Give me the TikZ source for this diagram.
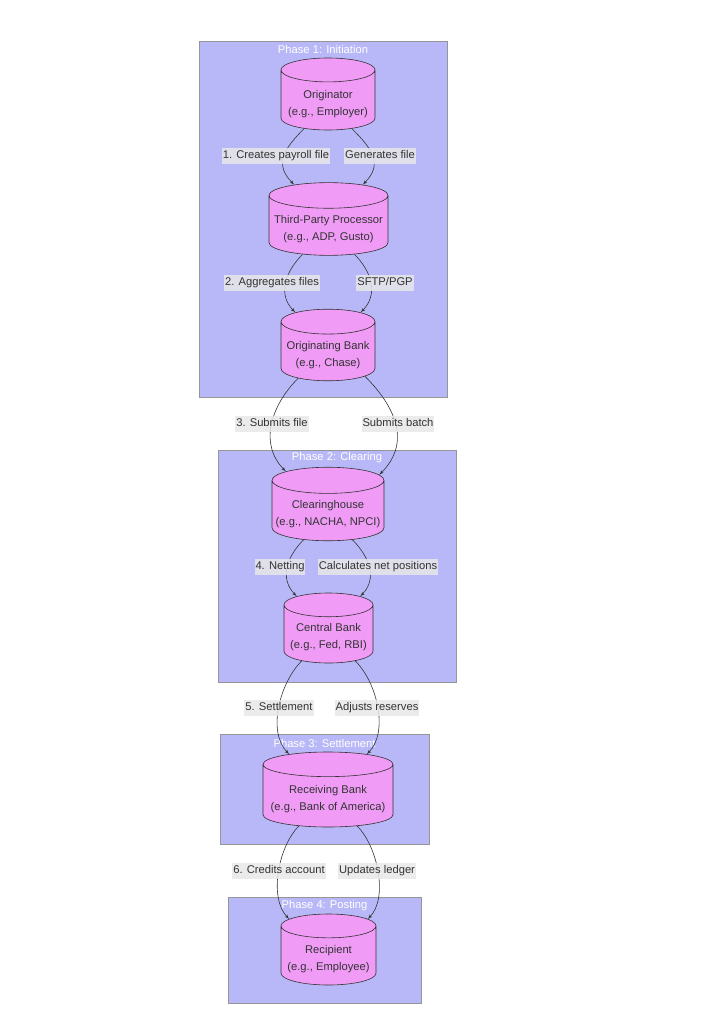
\documentclass[tikz,border=0pt]{standalone}
\usepackage{fontspec}
\setmainfont{Liberation Sans}
\usetikzlibrary{arrows,shapes.geometric,calc}
\definecolor{phasefill}{RGB}{184,184,248}
\definecolor{phaseline}{RGB}{150,150,150}
\definecolor{dbfill}{RGB}{240,156,246}
\definecolor{lblfill}{RGB}{232,232,232}
\definecolor{ink}{RGB}{51,51,51}
\newcommand{\dbtext}[2]{\raisebox{-3pt}[\height][\depth]{\begin{tabular}{@{}c@{}}#1\\#2\end{tabular}}}

\begin{document}
\begin{tikzpicture}[x=1pt,y=1pt,>=latex']
      \tikzset{
	  phase/.style={draw=phaseline, fill=phasefill, line width=0.8pt},
	  phasetitle/.style={text=white, font=\fontsize{11.2}{13}\selectfont},
	  db/.style={cylinder, shape border rotate=90, anchor=shape center, draw=ink, fill=dbfill, line width=0.6pt, text=ink, inner sep=0pt, font=\fontsize{11.2}{17}\selectfont},
	  lbl/.style={fill=lblfill, fill opacity=0.85, text opacity=1, text=ink, inner xsep=1pt, inner ysep=2.5pt, text height=8.2pt, text depth=2.6pt, font=\fontsize{11.2}{13}\selectfont},
	  flow/.style={->, draw=ink, line width=0.6pt},
      }
      \useasboundingbox[fill=white] (0,0) rectangle (710,-1024);

      % phases
      \draw[phase] (199,-41) rectangle (447,-397);
      \node[phasetitle] (t1) at (323,-49) {Phase 1: Initiation};
      \draw[phase] (218,-450) rectangle (456,-682);
      \node[phasetitle] (t2) at (337,-458) {Phase 2: Clearing};
      \draw[phase] (220,-734) rectangle (429,-844);
      \node[phasetitle] (t3) at (324.5,-743) {Phase 3: Settlement};
      \draw[phase] (228,-897) rectangle (421,-1003);
      \node[phasetitle] (t4) at (324.5,-906) {Phase 4: Posting};

      \node (orig) at (328,-94) [db, minimum width=94, minimum height=72, aspect=0.3] {\dbtext{Originator}{(e.g., Employer)}};
      \node (tpp) at (328.5,-219) [db, minimum width=119, minimum height=72, aspect=0.235] {\dbtext{Third-Party Processor}{(e.g., ADP, Gusto)}};
      \node (obank) at (328,-345) [db, minimum width=94, minimum height=70, aspect=0.3] {\dbtext{Originating Bank}{(e.g., Chase)}};
      \node (chouse) at (328,-504) [db, minimum width=112, minimum height=72, aspect=0.25] {\dbtext{Clearinghouse}{(e.g., NACHA, NPCI)}};
      \node (cbank) at (328.5,-628) [db, minimum width=89, minimum height=70, aspect=0.31] {\dbtext{Central Bank}{(e.g., Fed, RBI)}};
      \node (rbank) at (328,-789.5) [db, minimum width=130, minimum height=75, aspect=0.215] {\dbtext{Receiving Bank}{(e.g., Bank of America)}};
      \node (recip) at (328.5,-949.5) [db, minimum width=95, minimum height=71, aspect=0.29] {\dbtext{Recipient}{(e.g., Employee)}};

      \draw[flow] (orig.-130) to[out=-135,in=135,looseness=1.3] (tpp.130);
      \draw[flow] (orig.-50) to[out=-45,in=45,looseness=1.3] (tpp.50);
      \draw[flow] (tpp.-132) to[out=-135,in=135,looseness=1.1] (obank.130);
      \draw[flow] (tpp.-48) to[out=-45,in=45,looseness=1.1] (obank.50);
      \draw[flow] (obank.-138) to[out=-135,in=135,looseness=1.05] (chouse.137);
      \draw[flow] (obank.-34) to[out=-45,in=45,looseness=1.15] (chouse.35);
      \draw[flow] (chouse.-130) to[out=-135,in=135,looseness=1.1] (cbank.130);
      \draw[flow] (chouse.-50) to[out=-45,in=45,looseness=1.1] (cbank.50);
      \draw[flow] (cbank.-135) to[out=-135,in=135,looseness=0.85] (rbank.133);
      \draw[flow] (cbank.-45) to[out=-45,in=45,looseness=0.85] (rbank.47);
      \draw[flow] (rbank.-134) to[out=-135,in=135,looseness=0.8] (recip.137);
      \draw[flow] (rbank.-46) to[out=-45,in=45,looseness=0.8] (recip.43);

      % edge labels
      \node[lbl] (e1a) at (276,-156) {1. Creates payroll file};
      \node[lbl] (e1b) at (380,-156) {Generates file};
      \node[lbl] (e2a) at (272,-283) {2. Aggregates files};
      \node[lbl] (e2b) at (385,-283) {SFTP/PGP};
      \node[lbl] (e3a) at (272,-424) {3. Submits file};
      \node[lbl] (e3b) at (398,-424) {Submits batch};
      \node[lbl] (e4a) at (280,-567) {4. Netting};
      \node[lbl] (e4b) at (378,-567) {Calculates net positions};
      \node[lbl] (e5a) at (279,-708) {5. Settlement};
      \node[lbl] (e5b) at (377,-708) {Adjusts reserves};
      \node[lbl] (e6a) at (279,-871) {6. Credits account};
      \node[lbl] (e6b) at (377,-871) {Updates ledger};
\end{tikzpicture}
\end{document}
